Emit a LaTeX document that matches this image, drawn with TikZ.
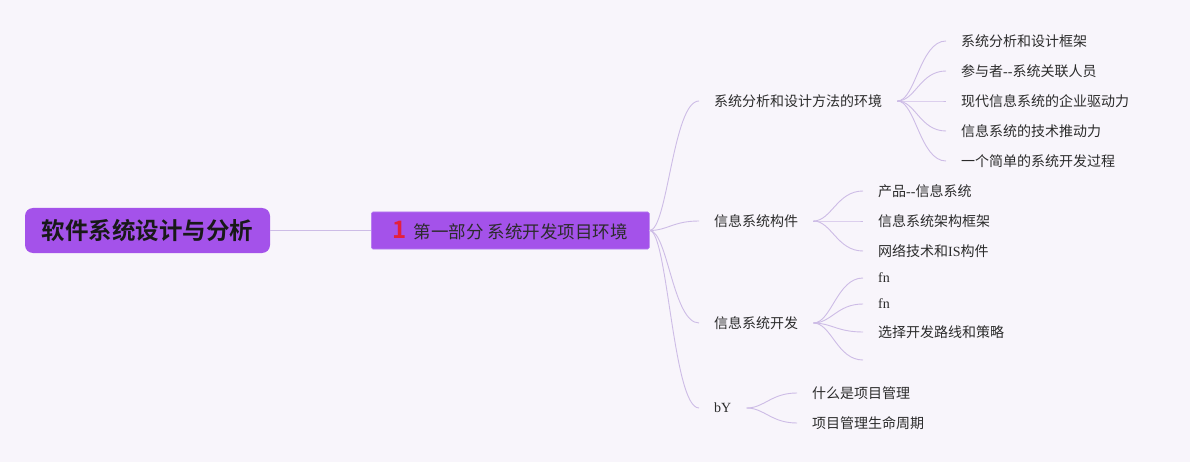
\documentclass[tikz,border=0pt]{standalone}
\usepackage{fontspec}
\usetikzlibrary{positioning}
\newfontfamily\cjk{Noto Sans CJK SC}[BoldFont={Noto Sans CJK SC Bold}]
\newfontfamily\latin{Liberation Serif}
\definecolor{canvas}{HTML}{F8F5FB}
\definecolor{topic}{HTML}{A452EA}
\definecolor{topicedge}{HTML}{B47BF0}
\definecolor{linkc}{HTML}{CDBCE6}
\definecolor{ink}{HTML}{2B2B2B}
\definecolor{marker}{HTML}{E4203C}
\tikzset{rootbox/.style={fill=topic,rounded corners=8pt,minimum width=245pt,minimum height=45pt,
  font=\cjk\bfseries\fontsize{23.5}{26}\selectfont,text=black!90,inner sep=0pt},
  partbox/.style={fill=topic,draw=topicedge,line width=0.6pt,rounded corners=1.5pt,minimum width=278pt,
  minimum height=37pt,font=\cjk\fontsize{17.5}{20}\selectfont,text=ink,inner sep=0pt},
  sub/.style={anchor=west,font=\cjk\fontsize{14}{16}\selectfont,text=ink,inner xsep=15pt,inner ysep=2pt},
  leaf/.style={sub},
  link/.style={draw=linkc,line width=0.9pt},
  branch/.style={to path={.. controls +(18,0) and +(-26,0) .. (\tikztotarget)}}}
\begin{document}
\begin{tikzpicture}[x=1pt,y=-1pt]
\fill[canvas] (0,0) rectangle (1190,462);
\useasboundingbox (0,0) rectangle (1190,462);
\node[rootbox] (root) at (147.5,230.5) {软件系统设计与分析};
\node[partbox,anchor=west] (part) at (371,230.5) {{\color{marker}\bfseries\fontsize{24}{24}\selectfont 1}\hspace{7pt}第一部分 系统开发项目环境};
\draw[link,line width=1.1pt] (root)--(part);
% second level
\node[sub] (env) at (699,101) {系统分析和设计方法的环境};
\node[sub] (comp) at (699,221) {信息系统构件};
\node[sub] (dev) at (699,323) {信息系统开发};
\node[sub] (pm) at (699,408) {\latin bY};
\draw[link] (part.east) to[branch] (env.west); \draw[link] (part.east) to[branch] (comp.west);
\draw[link] (part.east) to[branch] (dev.west); \draw[link] (part.east) to[branch] (pm.west);
% environment
\node[leaf] (env1) at (946,41) {系统分析和设计框架};
\node[leaf] (env2) at (946,71) {参与者{\latin -{}-}系统关联人员};
\node[leaf] (env3) at (946,101) {现代信息系统的企业驱动力};
\node[leaf] (env4) at (946,131) {信息系统的技术推动力};
\node[leaf] (env5) at (946,161) {一个简单的系统开发过程};
\draw[link] (env.east) to[branch] (env1.west); \draw[link] (env.east) to[branch] (env2.west);
\draw[link] (env.east) to[branch] (env3.west); \draw[link] (env.east) to[branch] (env4.west);
\draw[link] (env.east) to[branch] (env5.west);
% components
\node[leaf] (comp1) at (863,191) {产品{\latin -{}-}信息系统};
\node[leaf] (comp2) at (863,221) {信息系统架构框架};
\node[leaf] (comp3) at (863,251) {网络技术和{\latin IS}构件};
\draw[link] (comp.east) to[branch] (comp1.west); \draw[link] (comp.east) to[branch] (comp2.west);
\draw[link] (comp.east) to[branch] (comp3.west);
% development
\node[leaf] (dev1) at (863,278) {\latin fn};
\node[leaf] (dev2) at (863,304) {\latin fn};
\node[leaf] (dev3) at (863,332) {选择开发路线和策略};
\node[leaf] (dev4) at (863,360) {};
\draw[link] (dev.east) to[branch] (dev1.west); \draw[link] (dev.east) to[branch] (dev2.west);
\draw[link] (dev.east) to[branch] (dev3.west); \draw[link] (dev.east) to[branch] (dev4.west);
% project management
\node[leaf] (pm1) at (797,393) {什么是项目管理};
\node[leaf] (pm2) at (797,423) {项目管理生命周期};
\draw[link] (pm.east) to[branch] (pm1.west); \draw[link] (pm.east) to[branch] (pm2.west);
\end{tikzpicture}
\end{document}
